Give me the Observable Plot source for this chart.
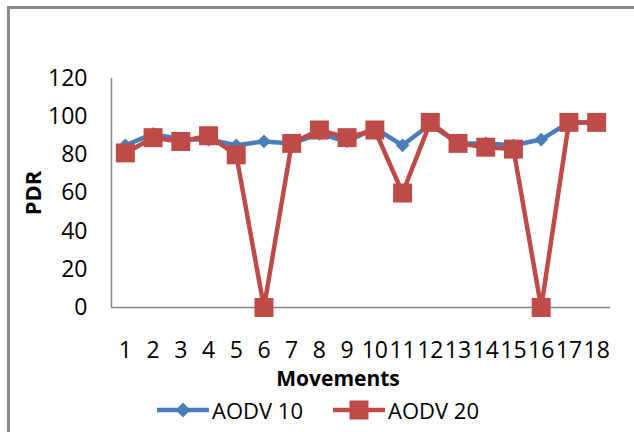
<!DOCTYPE html>
<html>
<head>
<meta charset="utf-8">
<script src="https://cdn.jsdelivr.net/npm/d3@7"></script>
<script src="https://cdn.jsdelivr.net/npm/@observablehq/plot@0.6"></script>
<style>
  body { margin: 0; background: #fff; width: 634px; height: 432px; overflow: hidden; position: relative; font-family: "Open Sans", sans-serif; }
  #border { position: absolute; left: 7px; top: 6px; width: 700px; height: 500px; border-left: 3px solid #8a8a8a; border-top: 3px solid #8a8a8a; }
  #chart { position: absolute; left: 0; top: 0; }
  .lbl { position: absolute; font-weight: bold; color: #000; white-space: nowrap; line-height: 1; }
  #ylabel { left: 32px; top: 193px; font-size: 22px; transform: translate(-50%, -50%) rotate(-90deg); }
  #xlabel { left: 338px; top: 378px; font-size: 21px; transform: translate(-50%, -50%); }
  #legend { position: absolute; top: 410px; left: 0; width: 634px; height: 0; }
  .item { position: absolute; top: 0; transform: translateY(-50%); display: flex; align-items: center; font-size: 22px; line-height: 1; color: #000; white-space: nowrap; }
</style>
</head>
<body>
<div id="border"></div>
<div id="chart"></div>
<div id="ylabel" class="lbl">PDR</div>
<div id="xlabel" class="lbl">Movements</div>
<div id="legend"></div>
<script>
const movements = [1, 2, 3, 4, 5, 6, 7, 8, 9, 10, 11, 12, 13, 14, 15, 16, 17, 18];
const aodv10 = [85, 91, 88, 88, 85, 87, 86, 91, 87, 94, 85, 96, 86, 86, 85, 88, 97, 97];
const aodv20 = [81, 89, 87, 90, 80, 0, 86, 93, 89, 93, 60, 97, 86, 84, 83, 0, 97, 97];
const yTicks = [0, 20, 40, 60, 80, 100, 120];
const seriesNames = ["AODV 10", "AODV 20"];
const colors = ["#4A7EBB", "#BE4B48"];

const rows10 = movements.map((m, i) => ({m, v: aodv10[i]}));
const rows20 = movements.map((m, i) => ({m, v: aodv20[i]}));
const xDomain = [movements[0] - 0.5, movements[movements.length - 1] + 0.5];

const chart = Plot.plot({
  width: 634,
  height: 432,
  marginTop: 78,
  marginBottom: 125,
  marginLeft: 111,
  marginRight: 24,
  style: {fontFamily: "'Open Sans', sans-serif", fontSize: "23px", color: "#000", background: "transparent", overflow: "visible"},
  x: {domain: xDomain, axis: null},
  y: {domain: [0, 120], axis: null},
  marks: [
    Plot.axisY({ticks: yTicks, tickSize: 0, tickPadding: 24, label: null, fontSize: 23}),
    Plot.axisX({ticks: movements, tickFormat: d => String(d), tickSize: 0, tickPadding: 34, label: null, fontSize: 23}),
    Plot.ruleY([0], {stroke: "#868686", strokeWidth: 1.5}),
    Plot.ruleX([xDomain[0]], {y1: 0, y2: 120, stroke: "#868686", strokeWidth: 1.5}),
    Plot.line(rows10, {x: "m", y: "v", stroke: colors[0], strokeWidth: 4.5, strokeLinejoin: "round"}),
    Plot.dot(rows10, {x: "m", y: "v", symbol: "diamond2", r: 6.2, fill: colors[0], stroke: "none"}),
    Plot.line(rows20, {x: "m", y: "v", stroke: colors[1], strokeWidth: 4.5, strokeLinejoin: "round"}),
    Plot.dot(rows20, {x: "m", y: "v", symbol: "square", r: 10.7, fill: colors[1], stroke: "none"})
  ]
});
document.getElementById("chart").appendChild(chart);

// Legend
const legend = document.getElementById("legend");
const legendX = [157, 333];
const markers = ["diamond", "square"];
seriesNames.forEach((name, i) => {
  const item = document.createElement("div");
  item.className = "item";
  item.style.left = legendX[i] + "px";
  const ns = "http://www.w3.org/2000/svg";
  const svg = document.createElementNS(ns, "svg");
  svg.setAttribute("width", 52);
  svg.setAttribute("height", 22);
  const line = document.createElementNS(ns, "line");
  line.setAttribute("x1", 0); line.setAttribute("x2", 52);
  line.setAttribute("y1", 11); line.setAttribute("y2", 11);
  line.setAttribute("stroke", colors[i]); line.setAttribute("stroke-width", 4.5);
  svg.appendChild(line);
  if (markers[i] === "diamond") {
    const p = document.createElementNS(ns, "path");
    p.setAttribute("d", "M26,3.5L33.5,11L26,18.5L18.5,11Z");
    p.setAttribute("fill", colors[i]);
    svg.appendChild(p);
  } else {
    const r = document.createElementNS(ns, "rect");
    r.setAttribute("x", 16.5); r.setAttribute("y", 1.5);
    r.setAttribute("width", 19); r.setAttribute("height", 19);
    r.setAttribute("fill", colors[i]);
    svg.appendChild(r);
  }
  item.appendChild(svg);
  const t = document.createElement("span");
  t.textContent = name;
  t.style.marginLeft = "3px";
  item.appendChild(t);
  legend.appendChild(item);
});
</script>
</body>
</html>
